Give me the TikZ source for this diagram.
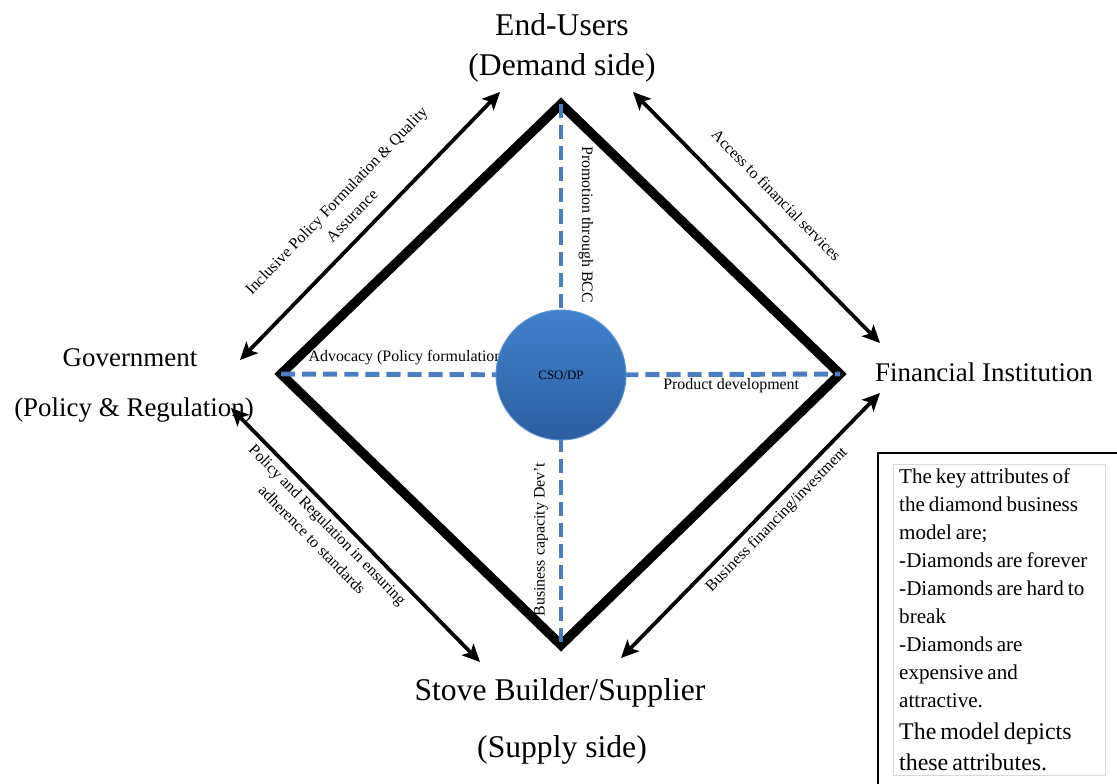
\documentclass[tikz,border=0pt]{standalone}
\usepackage{fontspec}
\setmainfont{Liberation Serif}
\usetikzlibrary{positioning, arrows.meta, shapes}

\definecolor{dashblue}{RGB}{74,126,193}
\definecolor{hubtop}{RGB}{64,130,206}
\definecolor{hubbot}{RGB}{44,94,160}

\begin{document}
\begin{tikzpicture}[
            x=0.03cm, y=-0.03cm,
            actor/.style={font=\fontsize{27}{32}\selectfont, inner sep=0pt},
            sideactor/.style={font=\fontsize{23}{28}\selectfont, inner sep=0pt},
            edgelabel/.style={font=\fontsize{13.6}{18.5}\selectfont, inner sep=0pt, align=center},
            link/.style={line width=3.2pt, {Stealth[length=15pt,width=14pt,inset=3.5pt]}-{Stealth[length=15pt,width=14pt,inset=3.5pt]}},
            diamondline/.style={line width=8pt, line join=miter},
            bluedash/.style={draw=dashblue, line width=4.2pt, dash pattern=on 12pt off 6pt},
            hub/.style={circle, minimum size=3.9cm, top color=hubtop, bottom color=hubbot, draw=hubtop!85!white, line width=0.8pt, font=\fontsize{11}{13}\selectfont},
            keybox/.style={draw=black!15, text width=6cm, inner xsep=0.18cm, minimum height=9.33cm, align=left, anchor=north west},
        ]
            \useasboundingbox (0,0) rectangle (1117,784);

            \coordinate (dtop) at (561,104);
            \coordinate (dleft) at (281,374);
            \coordinate (dright) at (840,374);
            \coordinate (dbot) at (561,645);
            \coordinate (hubc) at (561,375);

            \node[actor] (users) at (562,25) {End-Users};
            \node[actor] (demand) at (562,68) {(Demand side)};
            \node[sideactor] (govt) at (130,358) {Government};
            \node[sideactor] (policyreg) at (134,410) {(Policy \& Regulation)};
            \node[sideactor] (finance) at (984,372) {Financial Institution};
            \node[actor] (stove) at (560,693) {Stove Builder/Supplier};
            \node[actor] (supply) at (562,750) {(Supply side)};

            \coordinate (govUp) at (240,360);
            \coordinate (usrLeft) at (500,92);
            \coordinate (usrRight) at (633,92);
            \coordinate (finUp) at (880,343);
            \coordinate (finLow) at (880,393);
            \coordinate (stoRight) at (621,658);
            \coordinate (stoLeft) at (480,662);
            \coordinate (govLow) at (231,408);

            \draw[diamondline] (dtop) -- (dright) -- (dbot) -- (dleft) -- cycle;

            \draw[bluedash] (dleft) -- node[edgelabel, pos=0.454, yshift=0.51cm] (advocacy) {Advocacy (Policy formulation)} (hubc);
            \draw[bluedash] (hubc) -- node[edgelabel, pos=0.61, yshift=-0.33cm] (product) {Product development} (dright);
            \draw[bluedash] (dtop) -- node[edgelabel, pos=0.445, xshift=0.75cm, rotate=-90] (promotion) {Promotion through BCC} (hubc);
            \draw[bluedash] (hubc) -- node[edgelabel, pos=0.61, xshift=-0.6cm, rotate=90] (capacity) {Business capacity Dev't} (dbot);

            \draw[link] (govUp) -- node[edgelabel, xshift=-0.78cm, yshift=0.54cm, rotate=46] (inclusive) {Inclusive Policy Formulation \& Quality\\Assurance} (usrLeft);
            \draw[link] (usrRight) -- node[edgelabel, xshift=0.6cm, yshift=0.675cm, rotate=-45.5] (access) {Access to financial services} (finUp);
            \draw[link] (govLow) -- node[edgelabel, xshift=-1.065cm, yshift=0.09cm, rotate=-45.6] (standards) {Policy and Regulation in ensuring\\adherence to standards} (stoLeft);
            \draw[link] (stoRight) -- node[edgelabel, xshift=0.795cm, yshift=0.165cm, rotate=45.7] (financing) {Business financing/investment} (finLow);

            \node[hub] (cso) at (hubc) {CSO/DP};

            \draw[line width=1.5pt] (878,453) rectangle (1140,800);
            \node[keybox] (keys) at (893,464) {\fontsize{18}{23.9}\selectfont The key attributes of\\the diamond business\\model are;\\-Diamonds are forever\\-Diamonds are hard to\\break\\-Diamonds are\\expensive and\\attractive.\par
                {\fontsize{20.4}{26.5}\selectfont The model depicts\\these attributes.\par}};
\end{tikzpicture}
\end{document}
